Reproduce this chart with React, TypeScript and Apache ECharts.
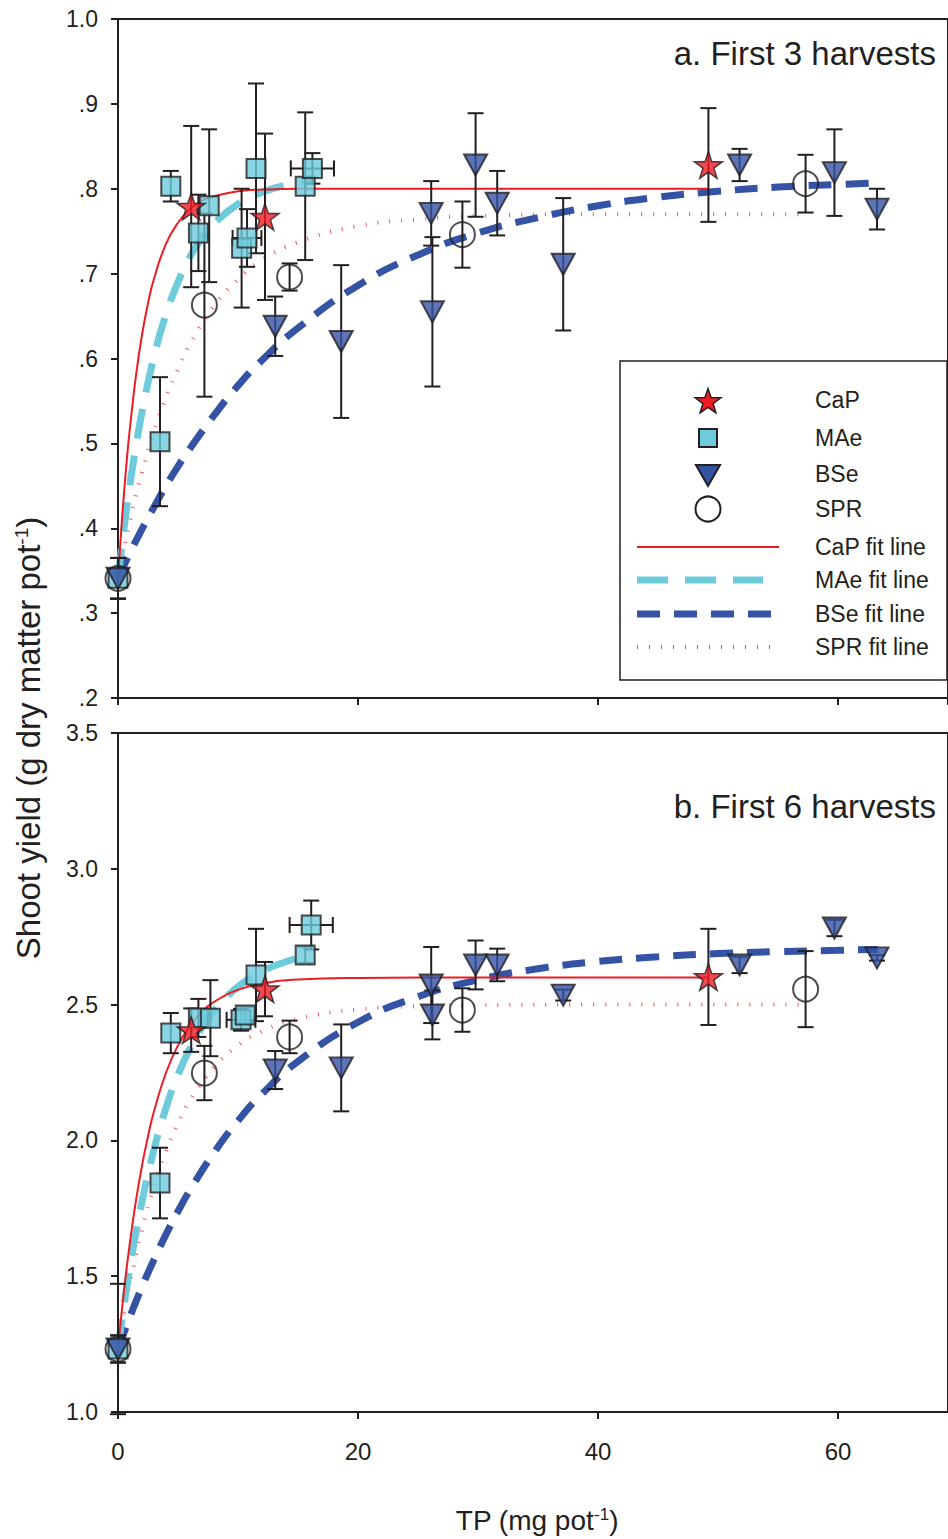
import React, { useEffect, useRef } from "react";
import * as echarts from "echarts";

// ---------- data: [TP, yield, yErr, xErr] ----------
const capA = [[6.1, 0.779, 0.095, 0], [12.25, 0.767, 0.098, 0], [49.2, 0.828, 0.067, 0]];
const maeA = [[0, 0.341, 0.024, 0], [3.5, 0.502, 0.076, 0], [4.4, 0.803, 0.018, 0], [6.7, 0.748, 0.045, 0], [7.6, 0.78, 0.09, 0], [10.3, 0.73, 0.07, 0], [10.75, 0.742, 0.034, 1.2], [11.5, 0.824, 0.1, 0], [15.6, 0.803, 0.087, 0], [16.2, 0.824, 0.018, 1.8]];
const bseA = [[0, 0.341, 0.024, 0], [13.1, 0.638, 0.035, 0], [18.6, 0.62, 0.09, 0], [26.1, 0.771, 0.038, 0], [26.2, 0.655, 0.088, 0], [29.8, 0.828, 0.061, 0], [31.6, 0.783, 0.038, 0], [37.1, 0.711, 0.078, 0], [51.8, 0.828, 0.019, 0], [59.7, 0.819, 0.051, 0], [63.25, 0.776, 0.024, 0]];
const sprA = [[0, 0.341, 0.024, 0], [7.2, 0.663, 0.108, 0], [14.3, 0.696, 0.016, 0], [28.7, 0.746, 0.039, 0], [57.3, 0.806, 0.034, 0]];

const capB = [[6.1, 2.406, 0.08, 0], [12.25, 2.557, 0.1, 0], [49.2, 2.602, 0.177, 0]];
const maeB = [[0, 1.232, 0.24, 0], [3.5, 1.843, 0.13, 0], [4.4, 2.395, 0.074, 0], [6.7, 2.451, 0.07, 0], [7.7, 2.45, 0.14, 0], [10.25, 2.444, 0.04, 1.2], [10.6, 2.462, 0.03, 0], [11.5, 2.609, 0.17, 0], [15.6, 2.683, 0.03, 0], [16.1, 2.793, 0.09, 1.8]];
const bseB = [[0, 1.232, 0.05, 0], [13.1, 2.259, 0.07, 0], [18.6, 2.267, 0.16, 0], [26.1, 2.572, 0.14, 0], [26.2, 2.462, 0.09, 0], [29.8, 2.646, 0.09, 0], [31.6, 2.646, 0.06, 0], [37.1, 2.535, 0.02, 0], [51.8, 2.646, 0.03, 0], [59.7, 2.782, 0.03, 0], [63.25, 2.672, 0.01, 0]];
const sprB = [[0, 1.232, 0.05, 0], [7.2, 2.248, 0.1, 0], [14.3, 2.381, 0.06, 0], [28.7, 2.48, 0.08, 0], [57.3, 2.557, 0.14, 0]];

// ---------- fit lines: [TP, yield] ----------
const capFitA = [[0, 0.341], [0.25, 0.394], [0.5, 0.441], [0.75, 0.483], [1, 0.519], [1.5, 0.58], [2, 0.628], [2.5, 0.665], [3, 0.694], [4, 0.735], [5, 0.76], [6, 0.776], [7, 0.786], [8, 0.791], [10, 0.797], [12, 0.799], [15, 0.8], [30, 0.8], [49.2, 0.8]];
const maeFitA = [[0, 0.341], [0.5, 0.4], [1, 0.452], [1.5, 0.497], [2, 0.537], [3, 0.602], [4, 0.652], [5, 0.69], [6, 0.72], [7, 0.742], [8, 0.759], [10, 0.782], [12, 0.796], [14, 0.804], [16.2, 0.809]];
const bseFitA = [[0, 0.341], [1, 0.371], [2, 0.399], [3, 0.425], [4, 0.45], [5, 0.473], [6, 0.494], [8, 0.533], [10, 0.568], [12, 0.598], [15, 0.636], [20, 0.686], [25, 0.722], [30, 0.748], [35, 0.766], [40, 0.78], [45, 0.79], [50, 0.797], [55, 0.802], [60, 0.805], [63.3, 0.807]];
const sprFitA = [[0, 0.341], [0.5, 0.376], [1, 0.409], [1.5, 0.439], [2, 0.466], [3, 0.514], [4, 0.554], [5, 0.588], [6, 0.617], [8, 0.662], [10, 0.693], [12, 0.716], [15, 0.737], [20, 0.756], [25, 0.764], [30, 0.768], [40, 0.77], [57.3, 0.77]];

const capFitB = [[0, 1.232], [0.5, 1.446], [1, 1.626], [1.5, 1.779], [2, 1.907], [2.5, 2.015], [3, 2.107], [4, 2.249], [5, 2.35], [6, 2.422], [7, 2.473], [8, 2.51], [10, 2.554], [12, 2.577], [15, 2.592], [20, 2.598], [30, 2.6], [49.2, 2.6]];
const maeFitB = [[0, 1.232], [0.5, 1.392], [1, 1.534], [1.5, 1.661], [2, 1.775], [3, 1.967], [4, 2.12], [5, 2.242], [6, 2.339], [7, 2.416], [8, 2.478], [10, 2.566], [12, 2.622], [14, 2.658], [15.6, 2.677]];
const bseFitB = [[0, 1.232], [1, 1.351], [2, 1.461], [3, 1.561], [4, 1.654], [5, 1.739], [6, 1.817], [8, 1.955], [10, 2.072], [12, 2.171], [15, 2.291], [20, 2.435], [25, 2.529], [30, 2.591], [35, 2.632], [40, 2.659], [45, 2.676], [50, 2.688], [55, 2.695], [60, 2.7], [63.3, 2.703]];
const sprFitB = [[0, 1.232], [0.5, 1.36], [1, 1.475], [1.5, 1.579], [2, 1.672], [3, 1.831], [4, 1.959], [5, 2.063], [6, 2.147], [8, 2.269], [10, 2.349], [12, 2.402], [15, 2.448], [20, 2.482], [25, 2.494], [30, 2.498], [40, 2.5], [57.3, 2.5]];

const xTicks = [0, 20, 40, 60];
const legendNames = ["CaP", "MAe", "BSe", "SPR", "CaP fit line", "MAe fit line", "BSe fit line", "SPR fit line"];
const titleA = "a. First 3 harvests";
const titleB = "b. First 6 harvests";

// ---------- styles ----------
const FONT = "'Liberation Sans', Arial, Helvetica, sans-serif";
const INK = "#231f20";
const RED = "#ed1c24";
const CYAN = "#6dcbdc";
const BLUE = "#3553a5";
const STAR = "path://M50,0 L61.8,35.1 L98.9,35.4 L69.1,57.6 L80.2,93.1 L50,71.6 L19.8,93.1 L30.9,57.6 L1.1,35.4 L38.2,35.1 Z";
const X_MAX = 830 / 12; // axis continues past the picture's right edge

function errSeries(data: number[][], gi: number) {
  return {
    type: "custom",
    xAxisIndex: gi,
    yAxisIndex: gi,
    z: 3,
    silent: true,
    data,
    encode: { x: 0, y: 1 },
    renderItem: (_p: any, api: any) => {
      const x = api.value(0), y = api.value(1), e = api.value(2), xe = api.value(3);
      const st = { stroke: INK, lineWidth: 2, fill: null };
      const cap = 8;
      const ch: any[] = [];
      if (e > 0) {
        const t = api.coord([x, y + e]);
        const b = api.coord([x, y - e]);
        ch.push({ type: "line", shape: { x1: t[0], y1: t[1], x2: b[0], y2: b[1] }, style: st });
        ch.push({ type: "line", shape: { x1: t[0] - cap, y1: t[1], x2: t[0] + cap, y2: t[1] }, style: st });
        ch.push({ type: "line", shape: { x1: b[0] - cap, y1: b[1], x2: b[0] + cap, y2: b[1] }, style: st });
      }
      if (xe > 0) {
        const l = api.coord([x - xe, y]);
        const r = api.coord([x + xe, y]);
        ch.push({ type: "line", shape: { x1: l[0], y1: l[1], x2: r[0], y2: r[1] }, style: st });
        ch.push({ type: "line", shape: { x1: l[0], y1: l[1] - cap, x2: l[0], y2: l[1] + cap }, style: st });
        ch.push({ type: "line", shape: { x1: r[0], y1: r[1] - cap, x2: r[0], y2: r[1] + cap }, style: st });
      }
      return { type: "group", children: ch };
    },
  };
}

function markSeries(data: number[][], gi: number, kind: string) {
  const base: any = {
    type: "scatter",
    xAxisIndex: gi,
    yAxisIndex: gi,
    z: 4,
    silent: true,
    data: data.map((d) => [d[0], d[1]]),
  };
  if (kind === "star") {
    base.symbol = STAR;
    base.symbolKeepAspect = true;
    base.symbolSize = 28;
    base.itemStyle = { color: RED, borderColor: INK, borderWidth: 1.5 };
  } else if (kind === "square") {
    base.symbol = "rect";
    base.symbolSize = 19;
    base.itemStyle = { color: CYAN, borderColor: INK, borderWidth: 2 };
  } else if (kind === "tri") {
    base.symbol = "triangle";
    base.symbolRotate = 180;
    base.symbolSize = [23, 21];
    base.itemStyle = { color: BLUE, borderColor: INK, borderWidth: 2 };
  } else {
    base.symbol = "circle";
    base.symbolSize = 25;
    base.itemStyle = { color: "rgba(0,0,0,0)", borderColor: INK, borderWidth: 2 };
  }
  return base;
}

function lineSeries(data: number[][], gi: number, kind: string) {
  const ls: any =
    kind === "cap" ? { color: RED, width: 2, type: "solid" } :
    kind === "mae" ? { color: CYAN, width: 7, type: [30, 17] } :
    kind === "bse" ? { color: BLUE, width: 7, type: [23, 14] } :
    { color: RED, width: 4, type: [1, 11], opacity: 0.75 };
  return {
    type: "line",
    xAxisIndex: gi,
    yAxisIndex: gi,
    z: 2,
    silent: true,
    showSymbol: false,
    symbol: "none",
    smooth: 0.5,
    data,
    lineStyle: { ...ls, cap: "butt" },
  };
}

function starPoints(cx: number, cy: number, R: number, r: number) {
  const pts: number[][] = [];
  for (let i = 0; i < 10; i++) {
    const a = -Math.PI / 2 + (i * Math.PI) / 5;
    const rr = i % 2 === 0 ? R : r;
    pts.push([cx + rr * Math.cos(a), cy + rr * Math.sin(a)]);
  }
  return pts;
}

function buildLegend() {
  const rows = [400, 438, 474, 509, 547, 580, 614, 647];
  const els: any[] = [
    { type: "rect", shape: { x: 620, y: 361, width: 327, height: 319 }, style: { fill: "#fff", stroke: INK, lineWidth: 1.5 }, z: 10 },
    { type: "polygon", shape: { points: starPoints(708, 402, 13.5, 5.4) }, style: { fill: RED, stroke: INK, lineWidth: 1.5 }, z: 11 },
    { type: "rect", shape: { x: 699, y: 429, width: 18, height: 18 }, style: { fill: CYAN, stroke: INK, lineWidth: 2 }, z: 11 },
    { type: "polygon", shape: { points: [[696, 465], [720, 465], [708, 486]] }, style: { fill: BLUE, stroke: INK, lineWidth: 2 }, z: 11 },
    { type: "circle", shape: { cx: 708, cy: 509, r: 12.5 }, style: { fill: "#fff", stroke: INK, lineWidth: 2 }, z: 11 },
    { type: "line", shape: { x1: 637, y1: 547, x2: 779, y2: 547 }, style: { stroke: RED, lineWidth: 2 }, z: 11 },
    { type: "line", shape: { x1: 637, y1: 580, x2: 763, y2: 580 }, style: { stroke: CYAN, lineWidth: 7, lineDash: [31, 17] }, z: 11 },
    { type: "line", shape: { x1: 637, y1: 614, x2: 773, y2: 614 }, style: { stroke: BLUE, lineWidth: 7, lineDash: [23, 14] }, z: 11 },
    { type: "line", shape: { x1: 637, y1: 647, x2: 770, y2: 647 }, style: { stroke: RED, lineWidth: 4, lineDash: [1, 11], opacity: 0.75 }, z: 11 },
  ];
  legendNames.forEach((n, i) => {
    els.push({
      type: "text",
      x: 815,
      y: rows[i],
      z: 11,
      style: { text: n, fill: INK, font: `23px ${FONT}`, align: "left", verticalAlign: "middle" },
    });
  });
  return els;
}

export default function App() {
  const ref = useRef<HTMLDivElement>(null);
  useEffect(() => {
    if (!ref.current) return;
    const chart = echarts.init(ref.current, undefined, { renderer: "svg" });
    const axisCommonX = (show: boolean) => ({
      type: "value",
      min: 0,
      max: X_MAX,
      interval: 20,
      axisLine: { show: true, onZero: false, lineStyle: { color: INK, width: 2 } },
      axisTick: { show: true, inside: false, length: 7, lineStyle: { color: INK, width: 2 } },
      splitLine: { show: false },
      axisLabel: {
        show,
        color: INK,
        fontFamily: FONT,
        fontSize: 24,
        margin: 27,
        showMaxLabel: false,
        formatter: (v: number) => (xTicks.includes(v) ? String(v) : ""),
      },
    });
    const yAxisBase = {
      type: "value",
      axisLine: { show: true, onZero: false, lineStyle: { color: INK, width: 2 } },
      axisTick: { show: true, inside: false, length: 7, lineStyle: { color: INK, width: 2 } },
      splitLine: { show: false },
    };
    const option: any = {
      animation: false,
      backgroundColor: "#fff",
      grid: [
        { left: 118, top: 19, width: 830, height: 679, show: true, borderColor: INK, borderWidth: 2, backgroundColor: "transparent" },
        { left: 118, top: 733, width: 830, height: 679, show: true, borderColor: INK, borderWidth: 2, backgroundColor: "transparent" },
      ],
      xAxis: [{ ...axisCommonX(false), gridIndex: 0 }, { ...axisCommonX(true), gridIndex: 1 }],
      yAxis: [
        {
          ...yAxisBase,
          gridIndex: 0,
          min: 0.2,
          max: 1.0,
          interval: 0.1,
          axisLabel: {
            color: INK,
            fontFamily: FONT,
            fontSize: 23,
            margin: 20,
            formatter: (v: number) => (Math.abs(v - 1) < 1e-6 ? "1.0" : "." + Math.round(v * 10)),
          },
        },
        {
          ...yAxisBase,
          gridIndex: 1,
          min: 1.0,
          max: 3.5,
          interval: 0.5,
          axisLabel: {
            color: INK,
            fontFamily: FONT,
            fontSize: 23,
            margin: 20,
            formatter: (v: number) => v.toFixed(1),
          },
        },
      ],
      series: [
        lineSeries(sprFitA, 0, "spr"),
        lineSeries(bseFitA, 0, "bse"),
        lineSeries(maeFitA, 0, "mae"),
        lineSeries(capFitA, 0, "cap"),
        errSeries(sprA, 0),
        errSeries(bseA, 0),
        errSeries(maeA, 0),
        errSeries(capA, 0),
        markSeries(maeA, 0, "square"),
        markSeries(bseA, 0, "tri"),
        markSeries(sprA, 0, "circle"),
        markSeries(capA, 0, "star"),
        lineSeries(sprFitB, 1, "spr"),
        lineSeries(bseFitB, 1, "bse"),
        lineSeries(maeFitB, 1, "mae"),
        lineSeries(capFitB, 1, "cap"),
        errSeries(sprB, 1),
        errSeries(bseB, 1),
        errSeries(maeB, 1),
        errSeries(capB, 1),
        markSeries(maeB, 1, "square"),
        markSeries(bseB, 1, "tri"),
        markSeries(sprB, 1, "circle"),
        markSeries(capB, 1, "star"),
      ],
      graphic: [
        {
          type: "text",
          x: 936,
          y: 53,
          z: 10,
          style: { text: titleA, fill: INK, font: `33px ${FONT}`, align: "right", verticalAlign: "middle" },
        },
        {
          type: "text",
          x: 936,
          y: 806,
          z: 10,
          style: { text: titleB, fill: INK, font: `33px ${FONT}`, align: "right", verticalAlign: "middle" },
        },
        {
          type: "text",
          x: 28,
          y: 738,
          rotation: Math.PI / 2,
          z: 10,
          style: {
            text: "{a|Shoot yield (g dry matter pot}{s|-1}{a|)}",
            align: "center",
            verticalAlign: "middle",
            rich: {
              a: { fontFamily: FONT, fontSize: 33, fill: INK, color: INK },
              s: { fontFamily: FONT, fontSize: 19, fill: INK, color: INK, verticalAlign: "top" },
            },
          },
        },
        {
          type: "text",
          x: 537,
          y: 1520,
          z: 10,
          style: {
            text: "{a|TP (mg pot}{s|-1}{a|)}",
            align: "center",
            verticalAlign: "middle",
            rich: {
              a: { fontFamily: FONT, fontSize: 28, fill: INK, color: INK },
              s: { fontFamily: FONT, fontSize: 17, fill: INK, color: INK, verticalAlign: "top" },
            },
          },
        },
        ...buildLegend(),
      ],
    };
    chart.setOption(option);
    return () => chart.dispose();
  }, []);
  return <div ref={ref} style={{ position: "absolute", left: 0, top: 0, width: 948, height: 1539 }} />;
}
